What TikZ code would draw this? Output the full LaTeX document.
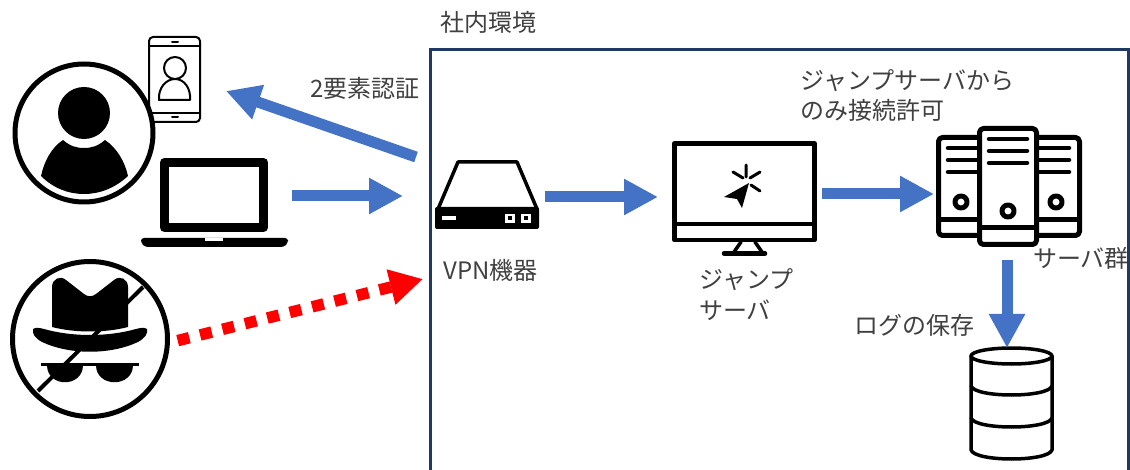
\documentclass[tikz,border=0pt]{standalone}
\usepackage{fontspec}
\setmainfont{Noto Sans CJK JP}[BoldFont={Noto Sans CJK JP}]
\usetikzlibrary{arrows.meta}
\definecolor{flowblue}{HTML}{4472C4}
\definecolor{framenavy}{HTML}{203864}
\definecolor{labelgrey}{HTML}{404040}
\tikzset{
  x=1pt,y=-1pt,
  flow/.style={draw=flowblue,line width=11pt,-{Triangle[length=34pt,width=34pt,fill=flowblue]}},
  intrude/.style={draw=red,line width=11.5pt,dash pattern=on 12pt off 11.1pt,-{Triangle[length=33pt,width=34pt,fill=red]}},
  label/.style={inner sep=0pt,anchor=west,text=labelgrey,font=\fontsize{24}{28}\selectfont},
  icon/.style={draw=black,line width=#1,line join=round,line cap=round},
  icon/.default=4pt,
  solid black/.style={fill=black,draw=none},
  knock/.style={fill=white,draw=none}
}
\begin{document}
\begin{tikzpicture}
\useasboundingbox (0,0) rectangle (1130,470);
\fill[white] (0,0) rectangle (1130,470);
% company frame
\draw[framenavy,line width=3pt] (430,472) -- (430,50) -- (1128.5,50) -- (1128.5,472);
% end points
\coordinate (mfaS) at (416,157); \coordinate (mfaT) at (226,91);
\coordinate (pcS) at (292,196); \coordinate (pcT) at (403,196);
\coordinate (vpnS) at (545,197); \coordinate (vpnT) at (658,197);
\coordinate (jumpS) at (822,194); \coordinate (jumpT) at (934,194);
\coordinate (srvS) at (1007,260); \coordinate (srvT) at (1007,348);
\coordinate (spyS) at (177.7,340.6); \coordinate (spyT) at (423,279);
% phone
\draw[icon=2pt,rounded corners=4pt] (149,37) rectangle (200,122);
\draw[icon=2pt] (149,46) -- (200,46) (149,113) -- (200,113);
\draw[icon=2pt] (172,42) -- (178,42) (172,117) -- (178,117);
\draw[icon=2pt] (175,68) circle (11);
\draw[icon=2pt] (159,100) -- (190,100) .. controls (191,88) and (184,79) .. (175,79) .. controls (166,79) and (158,88) .. (159,100) -- cycle;
% person
\draw[icon=5pt,fill=white] (84,133) circle (69);
\fill[solid black] (84,113) circle (26);
\fill[solid black] (63,140) .. controls (70,146) and (76,148) .. (84,148) .. controls (92,148) and (98,146) .. (105,140)
  .. controls (117,148) and (125,162) .. (128,176) .. controls (115,188) and (100,194) .. (84,194)
  .. controls (68,194) and (53,188) .. (41,176) .. controls (44,162) and (51,148) .. (63,140) -- cycle;
% laptop
\draw[draw=black,line width=9pt,line join=round] (164.5,162.5) rectangle (263.5,227.5);
\fill[solid black,rounded corners=3pt] (141,238) -- (288,238) -- (288,243) -- (284,247) -- (145,247) -- (141,243) -- cycle;
\fill[knock] (205,238) rectangle (223,241);
% spy
\draw[icon=5pt] (90,339) circle (77.5);
\draw[draw=black,line width=4pt] (143,287) -- (38,391);
\fill[solid black] (52,327) -- (52,287) .. controls (52,279) and (60,275) .. (66,280) -- (84,294) .. controls (88,297) and (92,297) .. (96,294) -- (114,280) .. controls (120,275) and (128,279) .. (128,287) -- (128,327)
 .. controls (105,333) and (75,333) .. (52,327) -- cycle;
\fill[solid black] (33,329) .. controls (36,327) and (40,328) .. (44,329) .. controls (72,337) and (108,337) .. (136,329) .. controls (140,328) and (144,327) .. (147,329) .. controls (148,334) and (145,338) .. (138,342) .. controls (110,355) and (70,355) .. (42,342) .. controls (35,338) and (32,334) .. (33,329) -- cycle;
\fill[solid black] (41,363) rectangle (139,366);
\fill[solid black] (47,365) .. controls (47,388) and (83,388) .. (83,365) -- cycle;
\fill[solid black] (96,365) .. controls (96,388) and (133,388) .. (133,365) -- cycle;
% VPN device
\draw[icon=3.5pt] (458,162) -- (517,162) -- (537,209) -- (438,209) -- cycle;
\fill[solid black,rounded corners=2pt] (435,207) rectangle (539,229);
\fill[knock] (442,216) rectangle (456,220);
\fill[knock] (505,214) rectangle (515,223);
\fill[knock] (521,214) rectangle (531,223);
\fill[solid black] (508,216.5) rectangle (512,220.5);
\fill[solid black] (524,216.5) rectangle (528,220.5);
% monitor
\draw[icon=4.5pt] (674.5,143.5) rectangle (814.5,240);
\draw[icon=4.5pt] (674.5,224) -- (814.5,224);
\draw[icon=3.5pt] (741,242) -- (734,252) (755,242) -- (762,252);
\draw[icon=4.5pt] (724,253.5) -- (765,253.5);
\fill[solid black] (724,197) -- (749,183) -- (742,208) -- (737,199) -- cycle;
\draw[icon=3pt] (746,165) -- (746,177) (733,172) -- (743,178) (760,172) -- (750,178) (760,191) -- (751,185);
% servers
\draw[icon=5pt,rounded corners=4pt] (938.5,137.5) rectangle (1079.5,235.5);
\draw[icon=5pt] (938.5,220) -- (1079.5,220);
\draw[icon=4.5pt] (948,148) -- (977,148) (948,160) -- (977,160) (948,172) -- (977,172);
\draw[icon=4.5pt] (1039,148) -- (1069,148) (1039,160) -- (1069,160) (1039,172) -- (1069,172);
\draw[icon=5pt] (961,202) circle (6) (1056,202) circle (6);
\draw[icon=5pt,fill=white,rounded corners=4pt] (979.5,128.5) rectangle (1036.5,244.5);
\draw[icon=5pt] (979.5,228) -- (1036.5,228);
\draw[icon=4.5pt] (989,139) -- (1027,139) (989,151) -- (1027,151) (989,163) -- (1027,163);
\draw[icon=5pt] (1008,211) circle (6);
% database
\draw[icon=3.5pt] (971,356) -- (971,450) .. controls (975,462) and (1048,462) .. (1052,450) -- (1052,356);
\draw[icon=3.5pt] (1011.5,356) ellipse (40.5 and 8);
\draw[icon=3.5pt] (971,386) .. controls (975,398) and (1048,398) .. (1052,386);
\draw[icon=3.5pt] (971,418) .. controls (975,430) and (1048,430) .. (1052,418);
% connectors
\draw[flow] (mfaS) -- (mfaT);
\draw[flow] (pcS) -- (pcT);
\draw[flow] (vpnS) -- (vpnT);
\draw[flow] (jumpS) -- (jumpT);
\draw[flow] (srvS) -- (srvT);
\draw[intrude] (spyS) -- (spyT);
% labels
\node[label] (lOffice) at (440,22) {社内環境};
\node[label] (lMfa) at (310,88) {2要素認証};
\node[label] (lAllow1) at (800,81) {ジャンプサーバから};
\node[label] (lAllow2) at (800,110) {のみ接続許可};
\node[label] (lVpn) at (443,270) {VPN機器};
\node[label] (lJump1) at (699,280) {ジャンプ};
\node[label] (lJump2) at (699,310) {サーバ};
\node[label] (lLog) at (854,325) {ログの保存};
\node[label] (lSrv) at (1033,258) {サーバ群};
\end{tikzpicture}
\end{document}
